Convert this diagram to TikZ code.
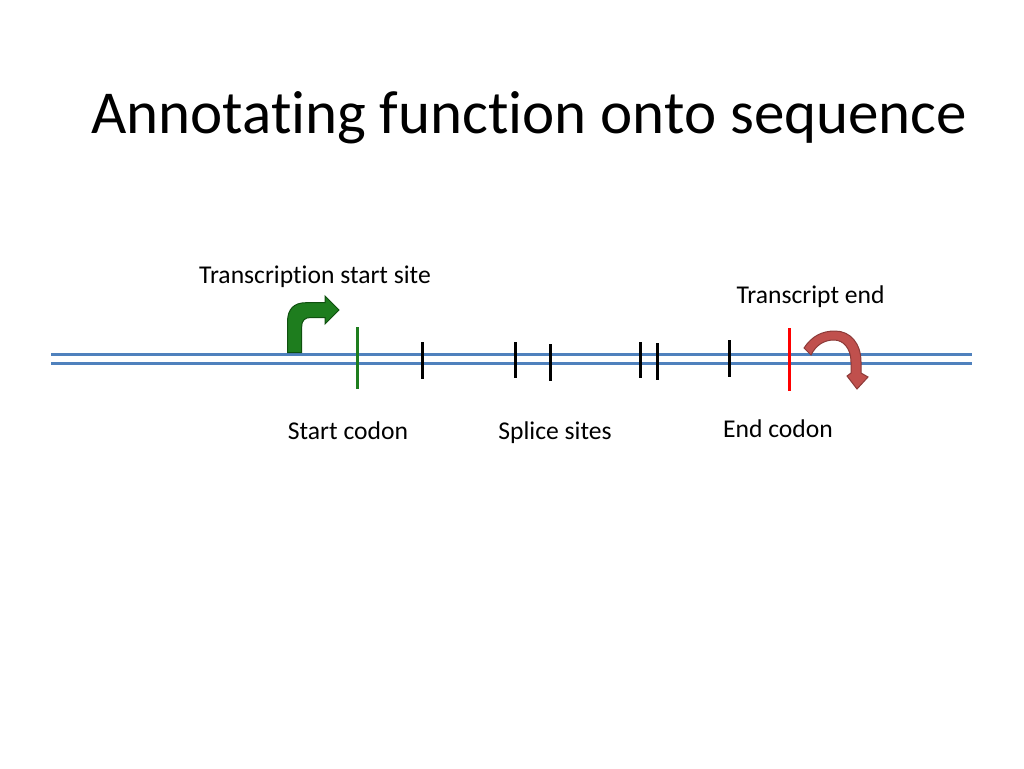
\documentclass[tikz,border=0pt]{standalone}
\usepackage{fontspec}
\setmainfont{Carlito}[RawFeature={-liga}]
\usepackage{tikz}
\usetikzlibrary{positioning}
\definecolor{seqblue}{RGB}{79,129,189}
\definecolor{tssgreen}{RGB}{30,125,30}
\definecolor{tssdark}{RGB}{15,80,15}
\definecolor{endred}{RGB}{192,80,77}
\definecolor{enddark}{RGB}{140,58,56}

\begin{document}
\begin{tikzpicture}[x=1pt,y=-1pt]
\tikzset{font={\fontsize{25.6}{30}\selectfont}}
\tikzset{seqline/.style={draw=seqblue,line width=3pt}}
\tikzset{site/.style={line width=3pt}}
\useasboundingbox[fill=white] (0,0) rectangle (1024,768);

%Title
\node[anchor=base west,inner sep=0pt,font={\fontsize{61}{73}\selectfont}] (title) at (91,133) {Annotating function onto sequence};

%Sequence
\draw[seqline] (51,354) -- (972,354);
\draw[seqline] (51,363.5) -- (972,363.5);

%Start codon
\draw[site,draw=tssgreen] (357,327) -- (357,389);
%Splice sites
\foreach \x/\a/\b in {422/342/379,515/342/378,550/344/381,640/342/378,657/343/380,729/340/377}
\draw[site,color=black] (\x,\a) -- (\x,\b);
%End codon
\draw[site,draw=red] (789,328) -- (789,391);

%Arrows
\draw[fill=tssgreen,draw=tssdark,line width=1pt] (287.5,352.5) -- (287.5,322)
  .. controls (287.5,309) and (294,302.7) .. (306,302.7) -- (325,302.7) -- (325,296)
  -- (339,310) -- (325,324) -- (325,317.5) -- (311,317.5)
  .. controls (305,317.5) and (301.7,320) .. (301.7,327) -- (301.7,352.5) -- cycle;
\draw[fill=endred,draw=enddark,line width=1pt] (804,348)
  .. controls (812,336) and (822,331) .. (835,331)
  .. controls (850,331) and (861,343) .. (861,362) -- (861,373) -- (868,377) -- (857,389)
  -- (847,376) -- (851,373) -- (851,362)
  .. controls (851,348) and (843,340) .. (834,340)
  .. controls (824,340) and (816,345) .. (811,355) -- cycle;

%Labels
\node[anchor=base] (tss) at (315,283) {Transcription start site};
\node[anchor=base] (tend) at (810.5,303) {Transcript end};
\node[anchor=base] (start) at (348,439) {Start codon};
\node[anchor=base] (splice) at (555,439) {Splice sites};
\node[anchor=base] (endc) at (778,437) {End codon};

\end{tikzpicture}
\end{document}
